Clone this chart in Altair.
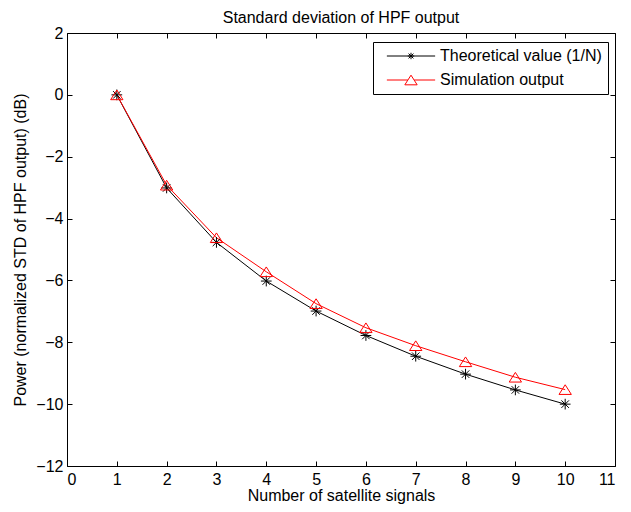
import altair as alt
import pandas as pd

# Data
n_signals = [1, 2, 3, 4, 5, 6, 7, 8, 9, 10]
theoretical = [0.0, -3.01, -4.77, -6.02, -6.99, -7.78, -8.45, -9.03, -9.54, -10.0]
simulation = [0.0, -2.92, -4.62, -5.72, -6.75, -7.53, -8.11, -8.63, -9.13, -9.53]
series_names = ["Theoretical value (1/N)", "Simulation output"]
series_colors = ["#000000", "#ff0000"]
x_ticks = list(range(0, 12))
y_ticks = list(range(-12, 3, 2))

rows = []
for n, t, s in zip(n_signals, theoretical, simulation):
    rows.append({"n": n, "value": t, "series": series_names[0]})
    rows.append({"n": n, "value": s, "series": series_names[1]})
df = pd.DataFrame(rows)

FONT = "Liberation Sans"
FS = 16

asterisk = "M-1,0H1M0,-1V1M-0.7,-0.7L0.7,0.7M-0.7,0.7L0.7,-0.7"
triangle = "M0,-0.9L1.15,0.9L-1.15,0.9Z"
leg_asterisk = "M-4.5,0H4.5M-0.6,0H0.6M0,-0.6V0.6M-0.45,-0.45L0.45,0.45M-0.45,0.45L0.45,-0.45"
leg_triangle = "M-4.5,0H-0.6M0.6,0H4.5" + triangle

xscale = alt.Scale(domain=[0, 11], nice=False, zero=False)
yscale = alt.Scale(domain=[-12, 2], nice=False, zero=False)
color_scale = alt.Scale(domain=series_names, range=series_colors)

base = alt.Chart(df)

lines = base.mark_line(strokeWidth=1, clip=True).encode(
    x=alt.X("n:Q", scale=xscale,
            axis=alt.Axis(orient="bottom", values=x_ticks, title="Number of satellite signals",
                          offset=-5, tickSize=5, domain=False, labelPadding=5, titlePadding=0,
                          grid=False)),
    y=alt.Y("value:Q", scale=yscale,
            axis=alt.Axis(orient="left", values=y_ticks,
                          title="Power (normalized STD of HPF output) (dB)",
                          offset=-5, tickSize=5, domain=False, labelPadding=4, titlePadding=7,
                          grid=False)),
    color=alt.Color("series:N", scale=color_scale, legend=None),
    detail="series:N",
)

points = base.mark_point(filled=False, size=115, strokeWidth=1, opacity=1).encode(
    x=alt.X("n:Q", scale=xscale,
            axis=alt.Axis(orient="top", values=x_ticks, labels=False, title=None,
                          offset=-5, tickSize=5, domain=False, grid=False)),
    y=alt.Y("value:Q", scale=yscale,
            axis=alt.Axis(orient="right", values=y_ticks, labels=False, title=None,
                          offset=-5, tickSize=5, domain=False, grid=False)),
    color=alt.Color("series:N", scale=color_scale, legend=None),
    shape=alt.Shape("series:N", scale=alt.Scale(domain=series_names, range=[asterisk, triangle]),
                    legend=None),
)

legend_props = dict(title=None, orient="none", legendX=306, legendY=9,
                    symbolOpacity=1, symbolStrokeWidth=1, symbolSize=115,
                    strokeColor="black", fillColor="white", padding=6,
                    rowPadding=8, symbolOffset=24, labelOffset=21,
                    labelFont=FONT, labelFontSize=FS, labelColor="black",
                    labelLimit=400)

legend_layer = base.mark_point(filled=False, size=115, strokeWidth=1, opacity=0).encode(
    x=alt.X("n:Q", scale=xscale, axis=None),
    y=alt.Y("value:Q", scale=yscale, axis=None),
    color=alt.Color("series:N", scale=color_scale, legend=alt.Legend(**legend_props)),
    shape=alt.Shape("series:N",
                    scale=alt.Scale(domain=series_names, range=[leg_asterisk, leg_triangle]),
                    legend=alt.Legend(**legend_props)),
)

chart = alt.layer(lines, points, legend_layer).resolve_axis(
    x="independent", y="independent"
).resolve_scale(
    shape="independent", color="independent"
).properties(
    width=548, height=433,
    title=alt.TitleParams("Standard deviation of HPF output", font=FONT, fontSize=FS,
                          fontWeight="normal", color="black", offset=-1),
    padding={"left": 59, "top": 25, "right": 8, "bottom": 38},
    autosize=alt.AutoSizeParams(type="none"),
).configure_view(
    stroke="black", strokeWidth=1
).configure_axis(
    labelFont=FONT, labelFontSize=FS, labelColor="black", titleFont=FONT, titleFontSize=FS,
    titleColor="black", titleFontWeight="normal", tickColor="black", tickWidth=1
)

chart.save("out.html", embed_options={"renderer": "svg", "actions": False})
